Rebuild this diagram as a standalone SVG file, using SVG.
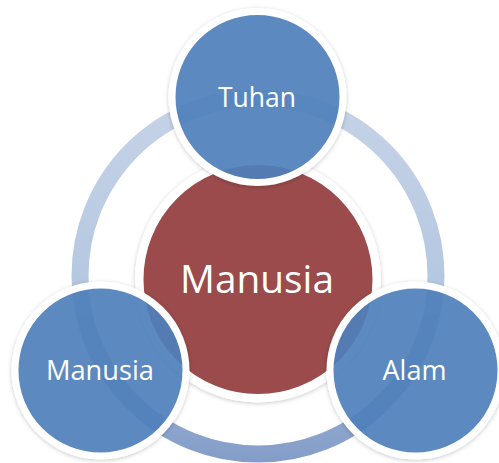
<svg xmlns="http://www.w3.org/2000/svg" width="499" height="463" viewBox="0 0 499 463">
<defs>
<linearGradient id="ringGrad" gradientUnits="userSpaceOnUse" x1="0" y1="98" x2="0" y2="462">
<stop offset="0" stop-color="#c6d3e7"/>
<stop offset="0.5" stop-color="#b5c8e2"/>
<stop offset="1" stop-color="#839dc8"/>
</linearGradient>
<filter id="shadow" x="-20%" y="-20%" width="140%" height="140%">
<feDropShadow dx="0" dy="1" stdDeviation="2" flood-color="#000" flood-opacity="0.22"/>
</filter>
</defs>
<style>
.blue{fill:#4f81bd;fill-opacity:0.9;stroke:#fff;stroke-width:7}
.red{fill:#9b4c4c;stroke:#fff;stroke-width:8.5}
.lbl{font-family:"Open Sans","Noto Sans","Liberation Sans",sans-serif;fill:#fff;text-anchor:middle}
.small{font-size:28px}
.big{font-size:39px}
</style>
<rect width="499" height="463" fill="#fff"/>
<g id="connectors">
<circle cx="258" cy="276" r="178" fill="none" stroke="url(#ringGrad)" stroke-width="17"/>
</g>
<g id="center">
<circle class="red" cx="258" cy="279.5" r="118.75" filter="url(#shadow)"/>
<text class="lbl big" x="257" y="293" textLength="154" lengthAdjust="spacingAndGlyphs">Manusia</text>
</g>
<g id="tuhan">
<circle class="blue" cx="257.5" cy="97" r="85.5" filter="url(#shadow)"/>
<text class="lbl small" x="257" y="107" textLength="78" lengthAdjust="spacingAndGlyphs">Tuhan</text>
</g>
<g id="manusia">
<circle class="blue" cx="100.5" cy="370.5" r="85.5" filter="url(#shadow)"/>
<text class="lbl small" x="100" y="380" textLength="108" lengthAdjust="spacingAndGlyphs">Manusia</text>
</g>
<g id="alam">
<circle class="blue" cx="415.5" cy="370.5" r="85.5" filter="url(#shadow)"/>
<text class="lbl small" x="414.5" y="380" textLength="64" lengthAdjust="spacingAndGlyphs">Alam</text>
</g>
</svg>
